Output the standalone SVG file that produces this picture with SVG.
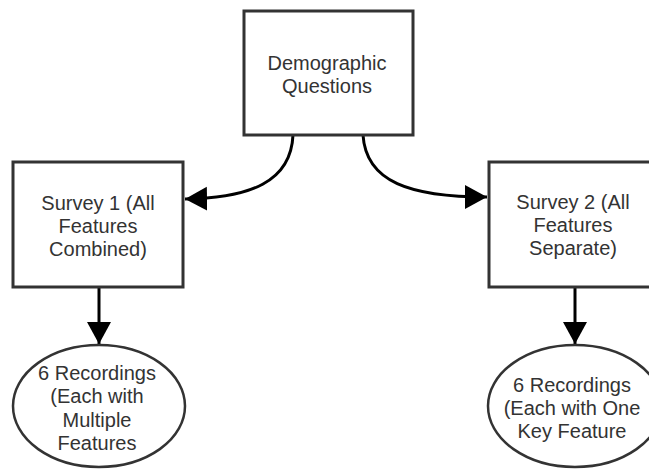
<svg xmlns="http://www.w3.org/2000/svg" width="649" height="469" viewBox="0 0 649 469">
<style>
.box{fill:#fff;stroke:#333;stroke-width:3}
.ell{fill:#fff;stroke:#333;stroke-width:2.5}
.lbl{font-family:"Liberation Sans",Arial,sans-serif;font-size:20px;fill:#333;text-anchor:middle}
.con{fill:none;stroke:#000;stroke-width:3}
</style>
<defs>
<marker id="arr" markerUnits="userSpaceOnUse" markerWidth="24" markerHeight="26" refX="22" refY="12" orient="auto">
<path d="M0,0 L22,12 L0,24 Z" fill="#000"/>
</marker>
</defs>
<rect width="649" height="469" fill="#fff"/>
<g id="connectors">
<path class="con" d="M293,135 C291,182 250,198 185,199" marker-end="url(#arr)"/>
<path class="con" d="M363,135 C366,182 410,197 487,197" marker-end="url(#arr)"/>
<path class="con" d="M99,287 L99,344" marker-end="url(#arr)"/>
<path class="con" d="M575,287 L575,344" marker-end="url(#arr)"/>
</g>
<g id="demographic">
<rect class="box" x="244" y="11" width="169" height="124"/>
<text class="lbl" x="327" y="70">Demographic</text>
<text class="lbl" x="327" y="93">Questions</text>
</g>
<g id="survey1">
<rect class="box" x="13" y="162" width="170" height="125"/>
<text class="lbl" x="98" y="210">Survey 1 (All</text>
<text class="lbl" x="98" y="233">Features</text>
<text class="lbl" x="98" y="256">Combined)</text>
</g>
<g id="survey2">
<rect class="box" x="489" y="162" width="170" height="125"/>
<text class="lbl" x="573" y="209">Survey 2 (All</text>
<text class="lbl" x="573" y="232">Features</text>
<text class="lbl" x="573" y="255">Separate)</text>
</g>
<g id="recordings1">
<ellipse class="ell" cx="99" cy="406" rx="86" ry="61"/>
<text class="lbl" x="97" y="380">6 Recordings</text>
<text class="lbl" x="97" y="403">(Each with</text>
<text class="lbl" x="97" y="427">Multiple</text>
<text class="lbl" x="97" y="450">Features</text>
</g>
<g id="recordings2">
<ellipse class="ell" cx="575" cy="406" rx="87" ry="61"/>
<text class="lbl" x="572" y="392">6 Recordings</text>
<text class="lbl" x="572" y="415">(Each with One</text>
<text class="lbl" x="572" y="438">Key Feature</text>
</g>
</svg>
